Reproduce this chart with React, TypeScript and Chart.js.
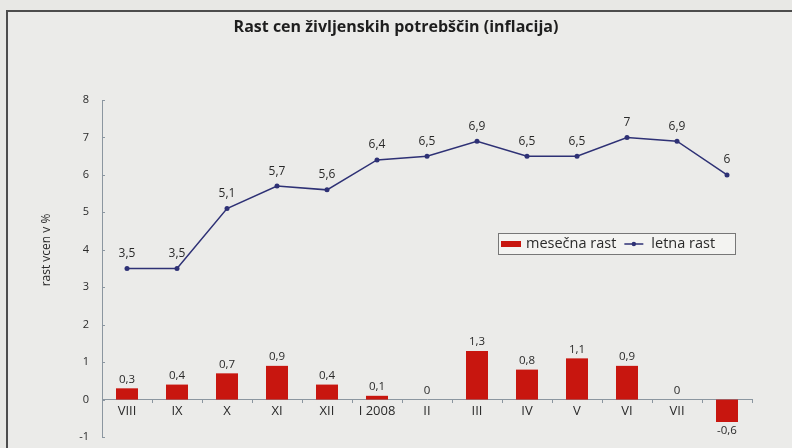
import { useEffect, useRef } from 'react';
import { Chart, registerables } from 'chart.js';

Chart.register(...registerables);

const categories = ['VIII', 'IX', 'X', 'XI', 'XII', 'I 2008', 'II', 'III', 'IV', 'V', 'VI', 'VII', 'VIII'];
const monthlyGrowth = [0.3, 0.4, 0.7, 0.9, 0.4, 0.1, 0, 1.3, 0.8, 1.1, 0.9, 0, -0.6];
const yearlyGrowth = [3.5, 3.5, 5.1, 5.7, 5.6, 6.4, 6.5, 6.9, 6.5, 6.5, 7, 6.9, 6];
const yMin = -1;
const yMax = 8;
const titleText = 'Rast cen življenskih potrebščin (inflacija)';
const yTitleText = 'rast vcen v %';
const legendLabels = ['mesečna rast', 'letna rast'];

const FONT = '"Open Sans", "Noto Sans", sans-serif';
const BAR_COLOR = '#c8160f';
const LINE_COLOR = '#2e3175';
const TEXT_COLOR = '#2a2a2a';
const AXIS_COLOR = '#8b96a0';

const fmt = (v: number) => String(v).replace('.', ',');

const overlayPlugin = {
  id: 'overlay',
  afterDatasetsDraw(chart: any) {
    const ctx = chart.ctx;
    ctx.save();
    ctx.fillStyle = TEXT_COLOR;
    ctx.textAlign = 'center';
    ctx.font = `11.5px ${FONT}`;
    // bar labels
    const barMeta = chart.getDatasetMeta(0);
    barMeta.data.forEach((el: any, i: number) => {
      const v = monthlyGrowth[i];
      if (v < 0) {
        ctx.textBaseline = 'top';
        ctx.fillText(fmt(v), el.x, el.y + 3);
      } else {
        ctx.textBaseline = 'bottom';
        ctx.fillText(fmt(v), el.x, el.y - 3);
      }
    });
    // line labels
    const lineMeta = chart.getDatasetMeta(1);
    ctx.font = `12px ${FONT}`;
    ctx.textBaseline = 'bottom';
    lineMeta.data.forEach((el: any, i: number) => {
      ctx.fillText(fmt(yearlyGrowth[i]), el.x, el.y - 9);
    });

    // y ticks marks (inward)
    const ys = chart.scales.y;
    ctx.strokeStyle = AXIS_COLOR;
    ctx.lineWidth = 1;
    for (let v = yMin; v <= yMax; v++) {
      const py = Math.round(ys.getPixelForValue(v)) + 0.5;
      ctx.beginPath();
      ctx.moveTo(ys.right, py);
      ctx.lineTo(ys.right + 3, py);
      ctx.stroke();
    }

    // y axis title
    ctx.save();
    ctx.translate(47, 250);
    ctx.rotate(-Math.PI / 2);
    ctx.textAlign = 'center';
    ctx.textBaseline = 'middle';
    ctx.font = `12px ${FONT}`;
    ctx.fillStyle = TEXT_COLOR;
    ctx.fillText(yTitleText, 0, 0);
    ctx.restore();

    // legend
    const lx = 498, ly = 233, lw = 237, lh = 21;
    ctx.fillStyle = 'rgba(244,244,242,0.9)';
    ctx.fillRect(lx, ly, lw, lh);
    ctx.strokeStyle = '#777';
    ctx.lineWidth = 1;
    ctx.strokeRect(lx + 0.5, ly + 0.5, lw, lh);
    const cy = ly + lh / 2 + 0.5;
    ctx.fillStyle = BAR_COLOR;
    ctx.fillRect(lx + 3, cy - 3, 20, 6);
    ctx.fillStyle = TEXT_COLOR;
    ctx.textAlign = 'left';
    ctx.textBaseline = 'middle';
    ctx.font = `14.5px ${FONT}`;
    ctx.fillText(legendLabels[0], lx + 28, cy);
    const w0 = ctx.measureText(legendLabels[0]).width;
    const sx = lx + 28 + w0 + 8;
    ctx.strokeStyle = LINE_COLOR;
    ctx.lineWidth = 1.5;
    ctx.beginPath();
    ctx.moveTo(sx, cy);
    ctx.lineTo(sx + 19, cy);
    ctx.stroke();
    ctx.fillStyle = LINE_COLOR;
    ctx.beginPath();
    ctx.arc(sx + 9.5, cy, 2.2, 0, Math.PI * 2);
    ctx.fill();
    ctx.fillStyle = TEXT_COLOR;
    ctx.fillText(legendLabels[1], sx + 27, cy);
    ctx.restore();
  },
};

export default function App() {
  const canvasRef = useRef<HTMLCanvasElement | null>(null);

  useEffect(() => {
    if (!canvasRef.current) return;
    const chart = new Chart(canvasRef.current, {
      type: 'bar',
      data: {
        labels: categories,
        datasets: [
          {
            type: 'bar',
            label: legendLabels[0],
            data: monthlyGrowth,
            backgroundColor: BAR_COLOR,
            barPercentage: 0.88,
            categoryPercentage: 0.5,
            order: 1,
          },
          {
            type: 'line',
            label: legendLabels[1],
            data: yearlyGrowth,
            borderColor: LINE_COLOR,
            backgroundColor: LINE_COLOR,
            borderWidth: 1.5,
            pointRadius: 2.5,
            pointBackgroundColor: LINE_COLOR,
            pointBorderWidth: 0,
            tension: 0,
            order: 0,
          },
        ],
      },
      options: {
        animation: false,
        responsive: false,
        maintainAspectRatio: false,
        layout: { padding: { top: 0, left: 0, right: 0, bottom: 11 } },
        plugins: {
          legend: { display: false },
          tooltip: { enabled: false },
          title: {
            display: true,
            text: titleText,
            color: '#1e1e1e',
            font: { family: FONT, size: 16, weight: 'bold' },
            padding: { top: 18, bottom: 62.8 },
          },
        },
        scales: {
          x: {
            position: { y: 0 } as any,
            z: 1,
            afterFit: (scale: any) => {
              scale.height = 0;
              scale.paddingTop = 0;
              scale.paddingBottom = 0;
            },
            grid: {
              display: true,
              drawOnChartArea: false,
              drawTicks: true,
              tickLength: 3,
              color: AXIS_COLOR,
              offset: true,
            },
            border: { display: true, color: AXIS_COLOR, width: 1 },
            ticks: {
              color: TEXT_COLOR,
              font: { family: FONT, size: 13 },
              padding: 1,
              maxRotation: 0,
              autoSkip: false,
            },
          },
          y: {
            position: 'left',
            min: yMin,
            max: yMax,
            afterFit: (scale: any) => {
              scale.width = 102;
              scale.paddingTop = 0;
              scale.paddingBottom = 0;
            },
            grid: { display: false, drawTicks: false },
            border: { display: true, color: AXIS_COLOR, width: 1 },
            ticks: {
              stepSize: 1,
              color: TEXT_COLOR,
              font: { family: FONT, size: 11 },
              padding: 13,
            },
          },
          spacer: {
            type: 'linear',
            position: 'right',
            display: true,
            afterFit: (scale: any) => {
              scale.width = 40;
              scale.paddingTop = 0;
              scale.paddingBottom = 0;
            },
            grid: { display: false, drawTicks: false },
            border: { display: false },
            ticks: { display: false },
          },
        },
      },
      plugins: [overlayPlugin],
    });
    return () => chart.destroy();
  }, []);

  return (
    <div
      style={{
        position: 'fixed',
        left: 0,
        top: 0,
        width: 792,
        height: 448,
        background: '#e8e8e5',
        overflow: 'hidden',
      }}
    >
      <div
        style={{
          position: 'absolute',
          left: 6,
          top: 10,
          width: 800,
          height: 460,
          borderLeft: '2px solid #4d4d4d',
          borderTop: '2px solid #4d4d4d',
          background: '#ebebe9',
        }}
      />
      <canvas
        ref={canvasRef}
        width={792}
        height={448}
        style={{ position: 'absolute', left: 0, top: 0, width: 792, height: 448 }}
      />
    </div>
  );
}
